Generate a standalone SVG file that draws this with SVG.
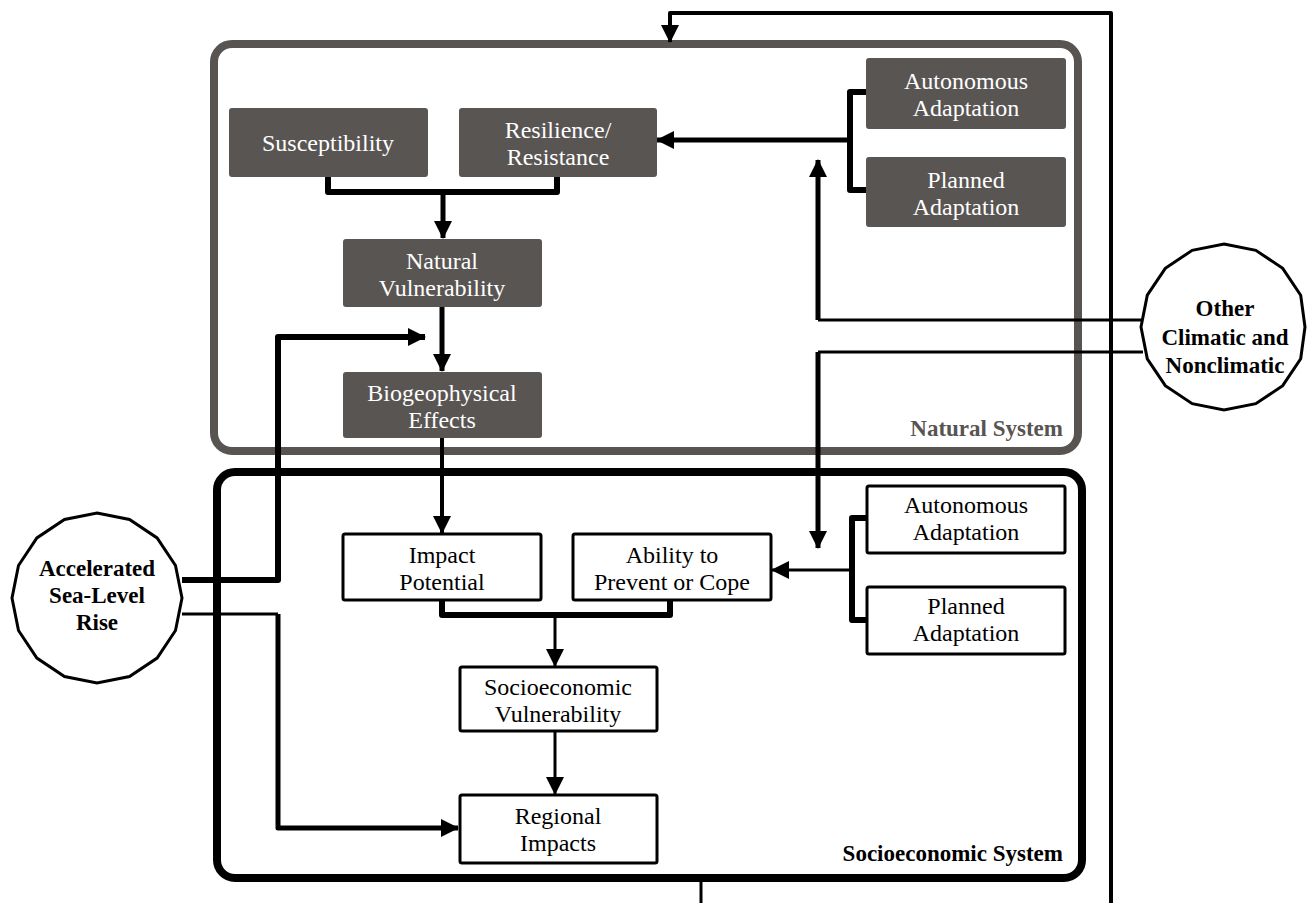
<svg xmlns="http://www.w3.org/2000/svg" width="1307" height="903" viewBox="0 0 1307 903">
<style>
text{font-family:"Times New Roman","Liberation Serif",Tinos,"DejaVu Serif",serif;font-size:24px;text-anchor:middle}
.nat rect{fill:#595553;stroke:none}
.nat text{fill:#ffffff}
.soc rect{fill:#ffffff;stroke:#000;stroke-width:3}
.soc text{fill:#000}
.drv polygon{fill:#fff;stroke:#000;stroke-width:3}
.drv text{font-weight:bold;fill:#000;font-size:23px}
.c{fill:none;stroke:#000;stroke-linejoin:round}
.w3{stroke-width:3}.w4{stroke-width:4}.w5{stroke-width:5}.w6{stroke-width:6}
.lbl{font-weight:bold;text-anchor:end;font-size:23px}
</style>
<defs>
<marker id="arr" markerUnits="userSpaceOnUse" markerWidth="18" markerHeight="18" viewBox="0 0 18 18" refX="17" refY="9" orient="auto">
<path d="M0,0 L18,9 L0,18 Z" fill="#000"/>
</marker>
</defs>
<rect width="1307" height="903" fill="#fff"/>

<g id="natural-system">
<rect x="214" y="44" width="864" height="407" rx="18" fill="none" stroke="#585452" stroke-width="8"/>
<text class="lbl" x="1063" y="436" fill="#585452">Natural System</text>
</g>
<g id="socioeconomic-system">
<rect x="217" y="472" width="865" height="406" rx="18" fill="none" stroke="#000" stroke-width="8"/>
<text class="lbl" x="1063" y="861" fill="#000">Socioeconomic System</text>
</g>

<g id="connectors">
<path class="c w4" d="M1111,903 V13 H670 V42" marker-end="url(#arr)"/>
<path class="c w3" d="M701,878 V903"/>
<path class="c w6" d="M328,177 V192 H557 V177"/>
<path class="c w5" d="M443,192 V238" marker-end="url(#arr)"/>
<path class="c w6" d="M866,92 H850 V190 H866"/>
<path class="c w5" d="M850,140 H657" marker-end="url(#arr)"/>
<path class="c w3" d="M1143,320 H818"/>
<path class="c w5" d="M818,320 V160" marker-end="url(#arr)"/>
<path class="c w5" d="M442,307 V371" marker-end="url(#arr)"/>
<path class="c w6" d="M182,580 H278 V337 H425" marker-end="url(#arr)"/>
<path class="c w3" d="M182,614 H278"/>
<path class="c w5" d="M278,614 V828 H458" marker-end="url(#arr)"/>
<path class="c w4" d="M442,438 V533" marker-end="url(#arr)"/>
<path class="c w3" d="M1143,352 H818"/>
<path class="c w5" d="M818,352 V548" marker-end="url(#arr)"/>
<path class="c w6" d="M867,518 H852 V620 H867"/>
<path class="c w3" d="M852,570 H772" marker-end="url(#arr)"/>
<path class="c w6" d="M442,600 V615 H670 V600"/>
<path class="c w3" d="M555,615 V666" marker-end="url(#arr)"/>
<path class="c w3" d="M555,731 V794" marker-end="url(#arr)"/>
</g>

<g id="susceptibility" class="nat"><rect x="229" y="108" width="199" height="69" rx="3"/><text x="328" y="151">Susceptibility</text></g>
<g id="resilience" class="nat"><rect x="459" y="108" width="198" height="69" rx="3"/><text x="558" y="138">Resilience/</text><text x="558" y="165">Resistance</text></g>
<g id="nat-autonomous" class="nat"><rect x="866" y="58" width="200" height="71" rx="3"/><text x="966" y="89">Autonomous</text><text x="966" y="116">Adaptation</text></g>
<g id="nat-planned" class="nat"><rect x="866" y="157" width="200" height="70" rx="3"/><text x="966" y="188">Planned</text><text x="966" y="215">Adaptation</text></g>
<g id="natural-vulnerability" class="nat"><rect x="343" y="239" width="199" height="68" rx="3"/><text x="442" y="269">Natural</text><text x="442" y="296">Vulnerability</text></g>
<g id="biogeophysical" class="nat"><rect x="343" y="372" width="199" height="66" rx="3"/><text x="442" y="401">Biogeophysical</text><text x="442" y="428">Effects</text></g>

<g id="impact-potential" class="soc"><rect x="343" y="534" width="198" height="66" rx="2"/><text x="442" y="563">Impact</text><text x="442" y="590">Potential</text></g>
<g id="ability" class="soc"><rect x="573" y="534" width="198" height="66" rx="2"/><text x="672" y="563">Ability to</text><text x="672" y="590">Prevent or Cope</text></g>
<g id="soc-autonomous" class="soc"><rect x="867" y="486" width="198" height="67" rx="2"/><text x="966" y="513">Autonomous</text><text x="966" y="540">Adaptation</text></g>
<g id="soc-planned" class="soc"><rect x="867" y="587" width="198" height="67" rx="2"/><text x="966" y="614">Planned</text><text x="966" y="641">Adaptation</text></g>
<g id="socioeconomic-vulnerability" class="soc"><rect x="460" y="667" width="197" height="64" rx="2"/><text x="558" y="695">Socioeconomic</text><text x="558" y="722">Vulnerability</text></g>
<g id="regional-impacts" class="soc"><rect x="460" y="795" width="197" height="68" rx="2"/><text x="558" y="824">Regional</text><text x="558" y="851">Impacts</text></g>

<g id="aslr" class="drv">
<polygon points="97,513 129.5,519.5 157.1,537.9 175.5,565.5 182,598 175.5,630.5 157.1,658.1 129.5,676.5 97,683 64.5,676.5 36.9,658.1 18.5,630.5 12,598 18.5,565.5 36.9,537.9 64.5,519.5"/>
<text x="97" y="576">Accelerated</text><text x="97" y="603">Sea-Level</text><text x="97" y="630">Rise</text>
</g>
<g id="other" class="drv">
<polygon points="1224,244 1255.8,250.3 1282.7,268.3 1300.7,295.2 1305,327 1300.7,358.8 1282.7,385.7 1255.8,403.7 1224,410 1192.2,403.7 1165.3,385.7 1147.3,358.8 1141,327 1147.3,295.2 1165.3,268.3 1192.2,250.3"/>
<text x="1225" y="316">Other</text><text x="1225" y="345">Climatic and</text><text x="1225" y="373">Nonclimatic</text>
</g>
</svg>
